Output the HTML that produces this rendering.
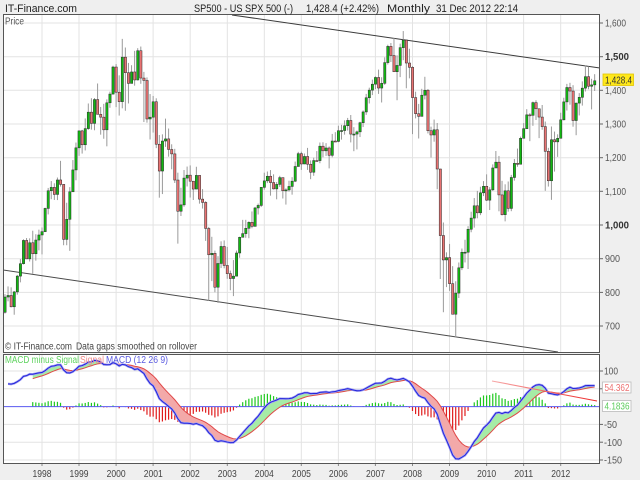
<!DOCTYPE html>
<html><head><meta charset="utf-8"><style>
html,body{margin:0;padding:0;background:#efefef;width:640px;height:480px;overflow:hidden;}
svg{display:block;}
text{font-family:"Liberation Sans",sans-serif;}
</style></head><body>
<svg id="c" width="640" height="480" viewBox="0 0 640 480" xmlns="http://www.w3.org/2000/svg">
<defs>
<clipPath id="cp"><rect x="4" y="15" width="595" height="337"/></clipPath>
<clipPath id="cm"><rect x="4" y="355" width="595" height="108"/></clipPath>
<linearGradient id="rg" x1="0" y1="0" x2="1" y2="0"><stop offset="0" stop-color="#f7a8a8"/><stop offset="1" stop-color="#ee2a2a"/></linearGradient>
</defs>
<rect width="640" height="480" fill="#efefef"/>
<rect x="3.5" y="14.5" width="596" height="338" fill="#fff"/>
<rect x="3.5" y="354.5" width="596" height="109" fill="#fff"/>
<g id="grid"></g>
<g id="price" clip-path="url(#cp)"></g>
<g id="macd" clip-path="url(#cm)"></g>
<rect x="3.5" y="14.5" width="596" height="338" fill="none" stroke="#555" stroke-width="1"/>
<rect x="3.5" y="354.5" width="596" height="109" fill="none" stroke="#555" stroke-width="1"/>

<!-- header -->
<text x="5" y="12" font-size="11" fill="#222" textLength="72" lengthAdjust="spacingAndGlyphs">IT-Finance.com</text>
<text x="194" y="12" font-size="11" fill="#222" textLength="99" lengthAdjust="spacingAndGlyphs">SP500 - US SPX 500 (-)</text>
<text x="306" y="12" font-size="11" fill="#222" textLength="73" lengthAdjust="spacingAndGlyphs">1,428.4 (+2.42%)</text>
<text x="387" y="12" font-size="11" fill="#222" textLength="43" lengthAdjust="spacingAndGlyphs">Monthly</text>
<text x="436" y="12" font-size="11" fill="#222" textLength="82" lengthAdjust="spacingAndGlyphs">31 Dec 2012 22:14</text>

<text x="5" y="24.5" font-size="10" fill="#555" textLength="19" lengthAdjust="spacingAndGlyphs">Price</text>
<text x="5" y="349.5" font-size="10" fill="#444" textLength="67" lengthAdjust="spacingAndGlyphs">© IT-Finance.com</text>
<text x="76" y="349.5" font-size="10" fill="#444" textLength="121" lengthAdjust="spacingAndGlyphs">Data gaps smoothed on rollover</text>

<text x="5" y="363" font-size="10" fill="#5fd35f" textLength="74" lengthAdjust="spacingAndGlyphs">MACD minus Signal</text>
<text x="80" y="363" font-size="10" fill="#f08a8a" textLength="24" lengthAdjust="spacingAndGlyphs">Signal</text>
<text x="106" y="363" font-size="10" fill="#5a5ae0" textLength="62" lengthAdjust="spacingAndGlyphs">MACD (12 26 9)</text>

<!-- right price axis -->
<g font-size="10.5" fill="#555">
<text x="605" y="26.5" textLength="21" lengthAdjust="spacingAndGlyphs">1,600</text>
<text x="605" y="60.2" textLength="24" lengthAdjust="spacingAndGlyphs" font-weight="bold" fill="#333">1,500</text>
<text x="605" y="93.8" textLength="21" lengthAdjust="spacingAndGlyphs">1,400</text>
<text x="605" y="127.5" textLength="21" lengthAdjust="spacingAndGlyphs">1,300</text>
<text x="605" y="161.2" textLength="21" lengthAdjust="spacingAndGlyphs">1,200</text>
<text x="605" y="194.8" textLength="21" lengthAdjust="spacingAndGlyphs">1,100</text>
<text x="605" y="228.5" textLength="24" lengthAdjust="spacingAndGlyphs" font-weight="bold" fill="#333">1,000</text>
<text x="605" y="262.2" textLength="15" lengthAdjust="spacingAndGlyphs">900</text>
<text x="605" y="295.9" textLength="15" lengthAdjust="spacingAndGlyphs">800</text>
<text x="605" y="329.5" textLength="15" lengthAdjust="spacingAndGlyphs">700</text>
</g>
<rect x="603" y="74" width="30.5" height="11.5" fill="#ffe81a" stroke="#e2c400" stroke-width="0.8"/>
<text x="605" y="83.3" font-size="10.5" fill="#333" textLength="27" lengthAdjust="spacingAndGlyphs">1,428.4</text>

<!-- right macd axis -->
<g font-size="10.5" fill="#555">
<text x="604" y="374.7" textLength="14" lengthAdjust="spacingAndGlyphs">100</text>
<text x="604" y="428" textLength="13" lengthAdjust="spacingAndGlyphs">-50</text>
<text x="604" y="445.8" textLength="18" lengthAdjust="spacingAndGlyphs">-100</text>
<text x="604" y="463.5" textLength="18" lengthAdjust="spacingAndGlyphs">-150</text>
</g>
<rect x="602.5" y="382" width="28.5" height="11" fill="#fff" stroke="#bbb" stroke-width="0.8"/>
<text x="604.5" y="391" font-size="10.5" fill="#ec7070" textLength="25" lengthAdjust="spacingAndGlyphs">54.362</text>
<rect x="602.5" y="400.5" width="28.5" height="11" fill="#fff" stroke="#bbb" stroke-width="0.8"/>
<text x="604.5" y="409.5" font-size="10.5" fill="#5ccc5c" textLength="25" lengthAdjust="spacingAndGlyphs">4.1836</text>

<!-- years -->
<g font-size="10.5" fill="#444" text-anchor="middle">
<text x="42" y="477" textLength="19" lengthAdjust="spacingAndGlyphs">1998</text>
<text x="79" y="477" textLength="19" lengthAdjust="spacingAndGlyphs">1999</text>
<text x="116.1" y="477" textLength="19" lengthAdjust="spacingAndGlyphs">2000</text>
<text x="153.2" y="477" textLength="19" lengthAdjust="spacingAndGlyphs">2001</text>
<text x="190.2" y="477" textLength="19" lengthAdjust="spacingAndGlyphs">2002</text>
<text x="227.3" y="477" textLength="19" lengthAdjust="spacingAndGlyphs">2003</text>
<text x="264.3" y="477" textLength="19" lengthAdjust="spacingAndGlyphs">2004</text>
<text x="301.4" y="477" textLength="19" lengthAdjust="spacingAndGlyphs">2005</text>
<text x="338.4" y="477" textLength="19" lengthAdjust="spacingAndGlyphs">2006</text>
<text x="375.5" y="477" textLength="19" lengthAdjust="spacingAndGlyphs">2007</text>
<text x="412.5" y="477" textLength="19" lengthAdjust="spacingAndGlyphs">2008</text>
<text x="449.6" y="477" textLength="19" lengthAdjust="spacingAndGlyphs">2009</text>
<text x="486.6" y="477" textLength="19" lengthAdjust="spacingAndGlyphs">2010</text>
<text x="523.7" y="477" textLength="19" lengthAdjust="spacingAndGlyphs">2011</text>
<text x="560.7" y="477" textLength="19" lengthAdjust="spacingAndGlyphs">2012</text>
</g>
</svg>
<script>
(function(){
var NS="http://www.w3.org/2000/svg";
function el(p,t,a){var e=document.createElementNS(NS,t);for(var k in a)e.setAttribute(k,a[k]);p.appendChild(e);return e;}
var grid=document.getElementById('grid'),pg=document.getElementById('price'),mg=document.getElementById('macd');
function py(v){return 23+(1600-v)*0.3367;}
function my(v){return 406.6-v*0.356;}
function X(i){return 4.95+i*3.0875;}
// grid
var k,gx,gy;
for(k=0;k<15;k++){gx=(42+k*37.05).toFixed(1);
 el(grid,'line',{x1:gx,y1:15,x2:gx,y2:352,stroke:'#e3e3e3','stroke-width':1});
 el(grid,'line',{x1:gx,y1:355,x2:gx,y2:463,stroke:'#e3e3e3','stroke-width':1});
 el(grid,'line',{x1:gx,y1:463,x2:gx,y2:466,stroke:'#888','stroke-width':1});}
for(k=700;k<=1600;k+=100){gy=py(k).toFixed(1);
 el(grid,'line',{x1:4,y1:gy,x2:599,y2:gy,stroke:'#e3e3e3','stroke-width':1});
 el(grid,'line',{x1:599,y1:gy,x2:603,y2:gy,stroke:'#666','stroke-width':1});}
[100,50,-50,-100,-150].forEach(function(v){gy=my(v).toFixed(1);
 el(grid,'line',{x1:4,y1:gy,x2:599,y2:gy,stroke:'#e3e3e3','stroke-width':1});
 el(grid,'line',{x1:599,y1:gy,x2:603,y2:gy,stroke:'#666','stroke-width':1});});
var pre=[481.61,467.14,445.77,450.91,456.50,444.27,458.26,475.49,462.69,472.35,453.69,459.27,
470.42,487.39,500.71,514.71,533.40,544.75,562.06,561.88,584.41,581.50,605.37,615.93,
636.02,640.43,645.50,654.17,669.12,670.63,639.95,651.99,687.31,705.27,757.02,740.74];
var d=[
[794.67,737.01,786.16],[817.68,773.43,790.82],[814.90,755.41,757.12],[804.13,733.54,801.34],[851.87,793.21,848.28],[898.70,829.76,885.14],[957.73,882.80,954.29],[961.32,898.88,899.47],[960.46,891.64,947.28],[983.12,855.27,914.62],[972.56,894.16,955.40],[986.25,924.92,970.43],
[992.65,912.83,980.28],[1051.45,979.03,1049.34],[1110.14,1031.45,1101.75],[1130.52,1076.70,1111.75],[1123.95,1074.39,1090.82],[1141.06,1074.06,1133.84],[1190.58,1114.30,1120.67],[1121.53,939.98,957.28],[1066.11,939.98,1017.01],[1112.57,923.32,1098.67],[1192.97,1098.67,1163.63],[1244.93,1132.88,1229.23],
[1280.68,1205.45,1279.64],[1282.62,1212.19,1238.33],[1316.55,1221.43,1286.37],[1361.00,1282.70,1335.18],[1376.62,1283.35,1301.84],[1377.10,1281.41,1372.71],[1420.33,1328.72,1328.72],[1350.68,1268.37,1320.41],[1359.90,1256.26,1282.71],[1373.17,1233.70,1362.93],[1396.12,1348.20,1388.91],[1473.10,1387.38,1469.25],
[1478.00,1350.14,1394.46],[1444.55,1325.07,1366.42],[1552.87,1346.62,1498.58],[1527.19,1339.40,1452.43],[1481.51,1361.09,1420.60],[1474.64,1420.60,1454.60],[1517.32,1413.89,1430.83],[1525.21,1429.32,1517.68],[1530.09,1419.44,1436.51],[1454.82,1305.79,1429.40],[1438.46,1303.95,1314.95],[1389.06,1254.07,1320.28],
[1383.37,1274.62,1366.01],[1376.38,1228.33,1239.94],[1267.42,1081.19,1160.33],[1269.30,1091.99,1249.46],[1315.93,1232.00,1255.82],[1286.62,1203.03,1224.42],[1239.78,1165.54,1211.23],[1226.27,1124.87,1133.58],[1155.40,944.75,1040.94],[1110.61,1026.76,1059.78],[1163.38,1054.31,1139.45],[1173.62,1114.53,1148.08],
[1176.97,1081.66,1130.20],[1130.20,1074.36,1106.73],[1173.03,1106.73,1147.39],[1147.84,1063.46,1076.92],[1106.59,1048.96,1067.14],[1070.74,952.92,989.82],[994.46,775.68,911.62],[965.00,833.44,916.07],[924.02,800.20,815.28],[907.44,768.63,885.76],[951.57,872.15,936.31],[954.28,871.44,879.82],
[935.05,840.34,855.70],[864.64,806.29,841.15],[895.90,788.90,848.18],[924.24,847.85,916.92],[965.38,902.83,963.59],[1015.33,963.59,974.50],[1015.41,962.10,990.31],[1011.01,960.84,1008.01],[1040.29,990.36,995.97],[1053.79,995.97,1050.71],[1063.65,1031.20,1058.20],[1112.56,1053.41,1111.92],
[1155.38,1105.08,1131.13],[1158.98,1124.44,1144.94],[1163.23,1087.16,1126.21],[1150.57,1105.72,1107.30],[1127.74,1076.32,1120.68],[1146.18,1113.32,1140.84],[1140.84,1078.78,1101.72],[1108.96,1060.72,1104.24],[1131.54,1099.18,1114.58],[1142.05,1090.19,1130.20],[1188.46,1127.60,1173.82],[1217.33,1173.76,1211.92],
[1217.80,1163.75,1181.27],[1212.44,1180.95,1203.60],[1229.11,1163.69,1180.59],[1191.88,1136.15,1156.85],[1200.08,1146.18,1191.50],[1219.59,1188.30,1191.33],[1245.15,1183.55,1234.18],[1245.86,1201.07,1220.33],[1243.13,1205.35,1228.81],[1233.34,1168.20,1207.01],[1270.64,1201.07,1249.48],[1275.80,1246.59,1248.29],
[1294.90,1245.74,1280.08],[1297.57,1253.61,1280.66],[1310.88,1268.42,1294.83],[1318.16,1280.74,1310.61],[1326.70,1245.34,1270.09],[1290.68,1219.29,1270.20],[1280.42,1224.54,1276.66],[1306.74,1261.30,1303.82],[1340.28,1290.93,1335.85],[1389.45,1327.10,1377.94],[1407.89,1360.98,1400.63],[1431.81,1385.93,1418.30],
[1441.61,1403.97,1438.24],[1461.57,1389.42,1406.82],[1438.89,1363.98,1420.86],[1498.02,1416.37,1482.37],[1535.56,1476.70,1530.62],[1540.56,1484.18,1503.35],[1555.90,1454.25,1455.27],[1503.89,1370.60,1473.99],[1538.74,1439.29,1526.75],[1576.09,1489.56,1549.38],[1545.79,1406.10,1481.14],[1523.57,1435.65,1468.36],
[1471.77,1270.05,1378.55],[1396.02,1316.75,1330.63],[1359.68,1256.98,1322.70],[1404.57,1324.35,1385.59],[1440.24,1373.07,1400.38],[1404.05,1272.00,1280.00],[1292.17,1200.44,1267.38],[1313.15,1247.45,1282.83],[1303.04,1106.42,1166.36],[1167.03,839.80,968.75],[1007.51,741.02,896.24],[918.85,815.69,903.25],
[943.85,804.47,825.88],[877.86,734.52,735.09],[832.98,666.79,797.87],[888.70,783.32,872.81],[930.17,866.10,919.14],[956.23,888.86,919.32],[996.68,869.32,987.48],[1039.47,978.51,1020.62],[1080.15,992.25,1057.08],[1101.36,1019.95,1036.19],[1113.69,1029.38,1095.63],[1130.38,1085.89,1115.10],
[1150.45,1071.59,1073.87],[1112.42,1044.50,1104.49],[1180.16,1101.36,1169.43],[1219.80,1170.69,1186.69],[1205.13,1040.78,1089.41],[1131.23,1028.33,1030.71],[1120.95,1010.91,1101.60],[1129.24,1039.70,1049.33],[1148.90,1041.11,1141.20],[1196.14,1131.87,1183.26],[1227.08,1173.00,1180.55],[1262.60,1186.60,1257.64],
[1302.67,1257.62,1286.12],[1344.07,1289.14,1327.22],[1332.28,1249.05,1325.83],[1366.52,1294.70,1363.61],[1370.58,1311.80,1345.20],[1345.20,1258.07,1320.64],[1356.48,1282.86,1292.28],[1307.38,1101.54,1218.89],[1229.29,1114.22,1131.42],[1292.66,1074.77,1253.30],[1277.55,1158.66,1246.96],[1269.37,1202.37,1257.60],
[1333.47,1258.86,1312.41],[1378.04,1310.73,1365.68],[1419.15,1340.03,1408.47],[1422.38,1357.38,1397.91],[1415.32,1291.98,1310.33],[1363.46,1266.74,1362.16],[1391.74,1325.41,1379.32],[1426.68,1354.65,1406.58],[1474.51,1396.56,1440.67],[1470.96,1403.28,1412.16],[1434.27,1343.35,1416.18],[1448.00,1398.11,1428.40]];
// trend lines
el(pg,'line',{x1:232,y1:15,x2:600,y2:68,stroke:'#3a3a3a','stroke-width':1});
el(pg,'line',{x1:0,y1:269.5,x2:558,y2:352,stroke:'#4a4a4a','stroke-width':1});
// candles
var prev=740.74,i;
for(i=0;i<d.length;i++){
 var h=d[i][0],l=d[i][1],c=d[i][2],o=prev;h=Math.max(h,o,c);l=Math.min(l,o,c);
 var x=X(i);
 el(pg,'line',{x1:x.toFixed(2),y1:py(h).toFixed(2),x2:x.toFixed(2),y2:py(l).toFixed(2),stroke:'#9a9a9a','stroke-width':1});
 var up=c>=o,t=py(Math.max(o,c)),b=py(Math.min(o,c));if(b-t<1)b=t+1;
 el(pg,'rect',{x:(x-1.1).toFixed(2),y:t.toFixed(2),width:2.3,height:(b-t).toFixed(2),fill:up?'#12b812':'#e87272',stroke:'#2a2a2a','stroke-width':0.5});
 prev=c;}
// MACD
var cl=pre.concat(d.map(function(r){return r[2];})),off=pre.length;
var e12=cl[0],e26=cl[0],m=[],s=[],sg;
for(i=0;i<cl.length;i++){e12+= (cl[i]-e12)*2/13;e26+=(cl[i]-e26)*2/27;var mv=e12-e26;m.push(mv);
 if(i===0)sg=mv;else sg+=(mv-sg)*2/10;s.push(sg);}
var M=m.slice(off),S=s.slice(off),st=9,N=M.length;
// histogram
for(i=st;i<N;i++){var hv=M[i]-S[i],x2=X(i).toFixed(2);
 el(mg,'line',{x1:x2,y1:my(0).toFixed(2),x2:x2,y2:my(hv).toFixed(2),stroke:hv>=0?'#1ec81e':'#e01c1c','stroke-width':1.2});}
el(mg,'line',{x1:4,y1:my(0).toFixed(2),x2:599,y2:my(0).toFixed(2),stroke:'#5a5af0','stroke-width':1});
// fill
var gp='',rp='';
function P(x,v){return x.toFixed(2)+','+my(v).toFixed(2)+' ';}
for(i=st;i<N-1;i++){var a=M[i]-S[i],bb=M[i+1]-S[i+1],x0=X(i),x1=X(i+1);
 if(a*bb>=0){var poly='M'+P(x0,M[i])+'L'+P(x1,M[i+1])+P(x1,S[i+1])+P(x0,S[i])+'Z ';if(a+bb>=0)gp+=poly;else rp+=poly;}
 else{var tt=a/(a-bb),xc=x0+tt*(x1-x0),vc=M[i]+tt*(M[i+1]-M[i]);
  var p1='M'+P(x0,M[i])+'L'+P(xc,vc)+P(x0,S[i])+'Z ',p2='M'+P(xc,vc)+'L'+P(x1,M[i+1])+P(x1,S[i+1])+'Z ';
  if(a>0){gp+=p1;rp+=p2;}else{rp+=p1;gp+=p2;}}}
el(mg,'path',{d:gp,fill:'#a6eca6'});
el(mg,'path',{d:rp,fill:'#f3a9a9'});
var sp='',mp='';
for(i=st;i<N;i++)sp+=(i===st?'M':'L')+P(X(i),S[i]);
for(i=1;i<N;i++)mp+=(i===1?'M':'L')+P(X(i),M[i]);
el(mg,'path',{d:sp,fill:'none',stroke:'#e04848','stroke-width':1});
el(mg,'path',{d:mp,fill:'none',stroke:'#a4a4f2','stroke-width':2.4});
el(mg,'path',{d:mp,fill:'none',stroke:'#2424dc','stroke-width':1});
el(mg,'line',{x1:492,y1:381,x2:597,y2:401,stroke:'url(#rg)','stroke-width':1.1});
})();
</script>
</body></html>
